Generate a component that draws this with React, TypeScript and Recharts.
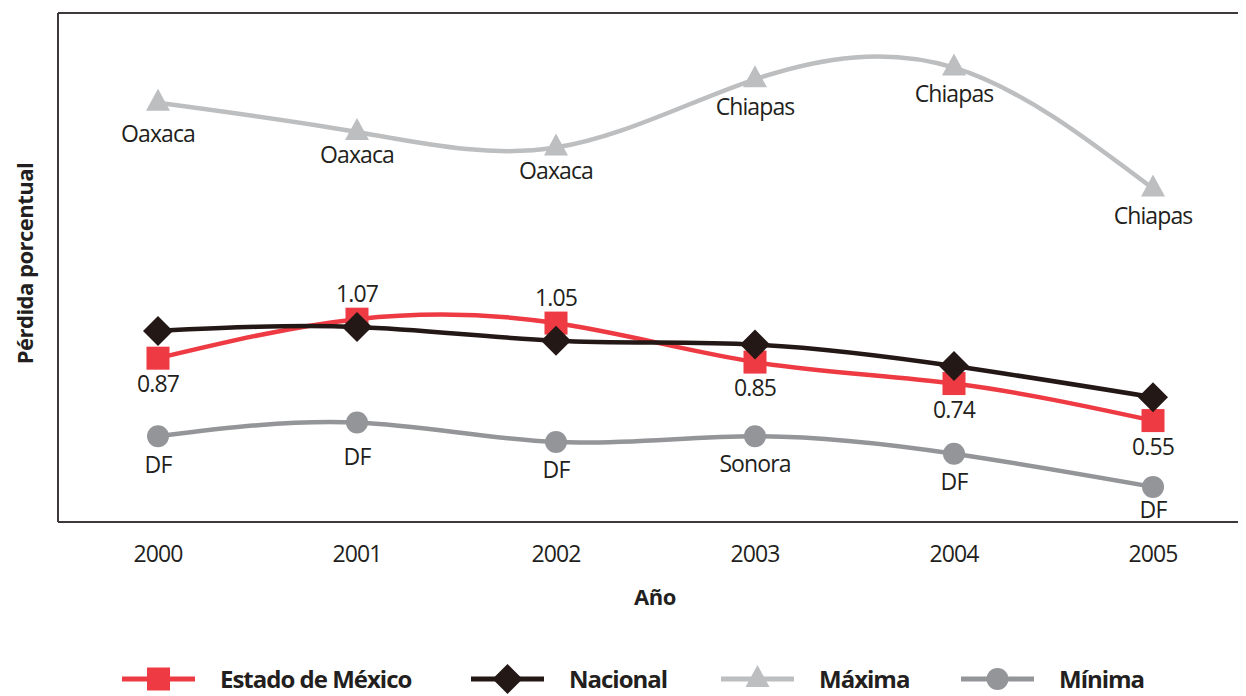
import React from 'react';
import { LineChart, Line, XAxis, YAxis, ReferenceLine, Legend, LabelList } from 'recharts';

const years = ['2000', '2001', '2002', '2003', '2004', '2005'];
const estadoMexico = [0.87, 1.07, 1.05, 0.85, 0.74, 0.55];
const nacional = [1.01, 1.03, 0.96, 0.94, 0.83, 0.67];
const maxima = [2.18, 2.03, 1.95, 2.3, 2.36, 1.74];
const minima = [0.47, 0.54, 0.44, 0.47, 0.38, 0.21];
const maximaStates = ['Oaxaca', 'Oaxaca', 'Oaxaca', 'Chiapas', 'Chiapas', 'Chiapas'];
const minimaStates = ['DF', 'DF', 'DF', 'Sonora', 'DF', 'DF'];

// label placement and legend layout (style, not data)
const estadoLabelSide = ['below', 'above', 'above', 'below', 'below', 'below'];
const maximaLabelDy = [39, 31, 31, 36, 34, 35];
const minimaLabelDy = [37, 42, 36, 36, 36, 31];
const seriesOrder = ['estado', 'nacional', 'maxima', 'minima'];
const legendItemWidths = [349, 250, 240, 200];

const data = years.map((y, i) => ({
  year: y,
  estado: estadoMexico[i],
  nacional: nacional[i],
  maxima: maxima[i],
  minima: minima[i],
}));

const RED = '#ee3a43';
const BLACK = '#231815';
const LIGHT = '#bcbec0';
const MID = '#939598';
const TEXT = '#231f20';
const BORDER = '#3e3a39';
const FONT = "'Open Sans', 'Noto Sans', sans-serif";

const Y_MIN = 0.03;
const Y_MAX = 2.64;

function Marker({ kind, cx, cy }: { kind: string; cx: number; cy: number }) {
  if (kind === 'estado') {
    return <rect x={cx - 11.5} y={cy - 11.5} width={23} height={23} fill={RED} />;
  }
  if (kind === 'nacional') {
    return (
      <polygon
        points={`${cx},${cy - 15} ${cx + 15},${cy} ${cx},${cy + 15} ${cx - 15},${cy}`}
        fill={BLACK}
      />
    );
  }
  if (kind === 'maxima') {
    return (
      <polygon
        points={`${cx},${cy - 14} ${cx + 12},${cy + 8} ${cx - 12},${cy + 8}`}
        fill={LIGHT}
      />
    );
  }
  return <circle cx={cx} cy={cy} r={11} fill={MID} />;
}

const makeDot = (kind: string) => (props: any) => {
  const { cx, cy, index } = props;
  if (cx == null || cy == null) return <g key={`${kind}-${index}`} />;
  return (
    <g key={`${kind}-${index}`}>
      <Marker kind={kind} cx={cx} cy={cy} />
    </g>
  );
};

const labelStyle = {
  fontFamily: FONT,
  fontSize: 23,
  letterSpacing: -0.9,
  fill: TEXT,
} as const;

const estadoLabel = (props: any) => {
  const { x, y, index, value } = props;
  const side = estadoLabelSide[index];
  const dy = side === 'above' ? -17 : 34;
  return (
    <text key={`el-${index}`} x={x} y={y + dy} textAnchor="middle" style={labelStyle}>
      {Number(value).toFixed(2)}
    </text>
  );
};

const makeNameLabel = (names: string[], dys: number[], prefix: string) => (props: any) => {
  const { x, y, index } = props;
  return (
    <text key={`${prefix}-${index}`} x={x} y={y + dys[index]} textAnchor="middle" style={labelStyle}>
      {names[index]}
    </text>
  );
};

const XTick = (props: any) => {
  const { x, y, payload } = props;
  return (
    <text x={x} y={y + 40} textAnchor="middle" style={labelStyle}>
      {payload.value}
    </text>
  );
};

const LegendContent = (props: any) => {
  const payload = [...(props.payload || [])].sort(
    (a: any, b: any) => seriesOrder.indexOf(String(a.dataKey)) - seriesOrder.indexOf(String(b.dataKey))
  );
  return (
    <div style={{ display: 'flex', alignItems: 'center' }}>
      {payload.map((p: any, i: number) => (
        <div
          key={`leg-${i}`}
          style={{ display: 'flex', alignItems: 'center', width: legendItemWidths[i], flex: 'none' }}
        >
          <svg width={73} height={30} style={{ display: 'block', flex: 'none' }}>
            <line x1={0} x2={73} y1={15} y2={15} stroke={p.color} strokeWidth={5} />
            <Marker kind={String(p.dataKey)} cx={36.5} cy={15} />
          </svg>
          <span
            style={{
              marginLeft: 25,
              fontFamily: FONT,
              fontWeight: 700,
              fontSize: 24,
              letterSpacing: -1.0,
              color: TEXT,
              lineHeight: '30px',
              whiteSpace: 'nowrap',
            }}
          >
            {p.value}
          </span>
        </div>
      ))}
    </div>
  );
};

const YTitle = (props: any) => {
  const { viewBox } = props;
  const cy = viewBox.y + viewBox.height / 2 - 4;
  const cx = 16;
  return (
    <text
      x={cx}
      y={cy}
      transform={`rotate(-90, ${cx}, ${cy})`}
      textAnchor="middle"
      dominantBaseline="central"
      style={{ fontFamily: FONT, fontWeight: 700, fontSize: 22, letterSpacing: -0.5, fill: TEXT }}
    >
      Pérdida porcentual
    </text>
  );
};

const XTitle = (props: any) => {
  const { viewBox } = props;
  const cx = viewBox.x + viewBox.width / 2 + 3;
  const y = viewBox.y + 83;
  return (
    <text
      x={cx}
      y={y}
      textAnchor="middle"
      style={{ fontFamily: FONT, fontWeight: 700, fontSize: 22, letterSpacing: -0.5, fill: TEXT }}
    >
      Año
    </text>
  );
};

export default function App() {
  return (
    <div style={{ width: 1238, height: 688, overflow: 'hidden', position: 'relative' }}>
      <LineChart
        width={1238}
        height={688}
        data={data}
        margin={{ top: 5, right: 0, left: 49, bottom: 0 }}
      >
        <XAxis
          dataKey="year"
          height={144}
          padding={{ left: 100, right: 93 }}
          tickLine={false}
          tickSize={0}
          tickMargin={0}
          axisLine={{ stroke: BORDER, strokeWidth: 2 }}
          tick={<XTick />}
          interval={0}
          label={{ content: XTitle } as any}
        />
        <YAxis
          width={1}
          domain={[Y_MIN, Y_MAX]}
          type="number"
          tick={false}
          tickLine={false}
          axisLine={{ stroke: BORDER, strokeWidth: 2 }}
          allowDataOverflow
          label={{ content: YTitle } as any}
        />
        <ReferenceLine y={Y_MAX} stroke={BORDER} strokeWidth={2} />
        <Legend
          verticalAlign="bottom"
          content={<LegendContent />}
          wrapperStyle={{ position: 'absolute', left: 114, top: 656, width: 'auto' }}
        />
        <Line
          name="Estado de México"
          dataKey="estado"
          type="natural"
          stroke={RED}
          strokeWidth={4.5}
          dot={makeDot('estado')}
          activeDot={false}
          isAnimationActive={false}
        >
          <LabelList dataKey="estado" content={estadoLabel} />
        </Line>
        <Line
          name="Nacional"
          dataKey="nacional"
          type="natural"
          stroke={BLACK}
          strokeWidth={4.5}
          dot={makeDot('nacional')}
          activeDot={false}
          isAnimationActive={false}
        />
        <Line
          name="Máxima"
          dataKey="maxima"
          type="natural"
          stroke={LIGHT}
          strokeWidth={4.5}
          dot={makeDot('maxima')}
          activeDot={false}
          isAnimationActive={false}
        >
          <LabelList dataKey="maxima" content={makeNameLabel(maximaStates, maximaLabelDy, 'mx')} />
        </Line>
        <Line
          name="Mínima"
          dataKey="minima"
          type="natural"
          stroke={MID}
          strokeWidth={4.5}
          dot={makeDot('minima')}
          activeDot={false}
          isAnimationActive={false}
        >
          <LabelList dataKey="minima" content={makeNameLabel(minimaStates, minimaLabelDy, 'mn')} />
        </Line>
      </LineChart>
    </div>
  );
}
